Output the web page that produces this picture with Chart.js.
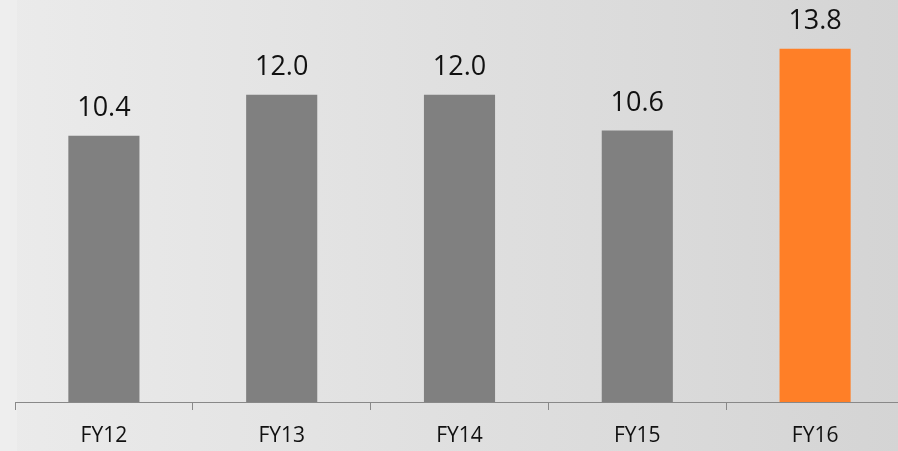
<!DOCTYPE html>
<html>
<head>
<meta charset="utf-8">
<script src="https://cdn.jsdelivr.net/npm/chart.js@4/dist/chart.umd.min.js"></script>
<style>
  html, body { margin: 0; padding: 0; overflow: hidden; background: #e4e4e4; }
  #wrap { width: 904px; height: 451px; }
</style>
</head>
<body>
<div id="wrap"><canvas id="fy-chart"></canvas></div>
<script>
"use strict";
const years = ["FY12", "FY13", "FY14", "FY15", "FY16"];
const values = [10.4, 12.0, 12.0, 10.6, 13.8];
const barColors = ["#808080", "#808080", "#808080", "#808080", "#ff7f27"];

const backgroundPlugin = {
  id: "slideBackground",
  beforeDraw: (chart) => {
    const ctx = chart.ctx;
    const grad = ctx.createLinearGradient(0, 0, chart.width, 0);
    grad.addColorStop(0, "#ebebeb");
    grad.addColorStop(1, "#d4d4d4");
    ctx.save();
    ctx.fillStyle = grad;
    ctx.fillRect(0, 0, chart.width, chart.height);
    ctx.fillStyle = "#eeeeee";
    ctx.fillRect(0, 0, 17, chart.height);
    ctx.restore();
  },
};

const valueLabelPlugin = {
  id: "valueLabels",
  afterDatasetsDraw: (chart) => {
    const ctx = chart.ctx;
    const meta = chart.getDatasetMeta(0);
    ctx.save();
    ctx.font = "27px 'Open Sans'";
    ctx.fillStyle = "#111111";
    ctx.textAlign = "center";
    ctx.textBaseline = "alphabetic";
    meta.data.forEach((bar, i) => {
      ctx.fillText(values[i].toFixed(1), bar.x, bar.y - 20);
    });
    ctx.restore();
  },
};

new Chart(document.querySelector("#fy-chart"), {
  type: "bar",
  data: {
    labels: years,
    datasets: [
      {
        data: values,
        backgroundColor: barColors,
        barPercentage: 0.4,
        categoryPercentage: 1.0,
      },
    ],
  },
  options: {
    responsive: true,
    maintainAspectRatio: false,
    animation: false,
    layout: { padding: { left: 15, right: 0, top: 0, bottom: 0 } },
    plugins: {
      legend: { display: false },
      tooltip: { enabled: false },
    },
    scales: {
      x: {
        offset: true,
        grid: {
          offset: true,
          drawOnChartArea: false,
          drawTicks: true,
          tickLength: 8,
          color: "#888888",
        },
        border: { color: "#888888", width: 1 },
        ticks: {
          color: "#111111",
          font: { family: "'Open Sans'", size: 21 },
          padding: 13,
        },
        afterFit: (scale) => {
          scale.height = 49;
        },
      },
      y: {
        display: false,
        min: 0,
        max: 15.7,
      },
    },
  },
  plugins: [backgroundPlugin, valueLabelPlugin],
});
</script>
</body>
</html>
